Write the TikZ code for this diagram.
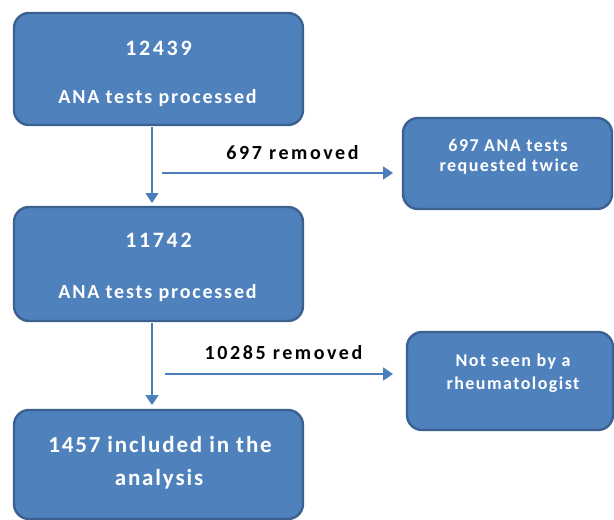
\documentclass[tikz,border=0pt]{standalone}
\usepackage{fontspec}
\setmainfont{Carlito}
\usetikzlibrary{arrows.meta}
\definecolor{boxfill}{HTML}{4F81BD}
\definecolor{boxline}{HTML}{3A6190}
\definecolor{arrowc}{HTML}{4A7EBB}
\begin{document}
\begin{tikzpicture}[x=1pt,y=-1pt,
  box/.style={draw=boxline, line width=2.4pt, fill=boxfill, rounded corners=15pt, inner sep=0pt},
  wtxt/.style={text=white, inner sep=0pt, anchor=base},
  bignum/.style={wtxt, font=\bfseries\fontsize{22}{24}\selectfont\addfontfeature{LetterSpace=12}},
  bigtxt/.style={wtxt, font=\bfseries\fontsize{20}{22}\selectfont\addfontfeature{LetterSpace=9}},
  smalltxt/.style={wtxt, font=\bfseries\fontsize{18}{20}\selectfont\addfontfeature{LetterSpace=8}},
  endtxt/.style={wtxt, font=\bfseries\fontsize{23}{25}\selectfont\addfontfeature{LetterSpace=8}},
  ltxt/.style={text=black, inner sep=0pt, anchor=base, font=\bfseries\fontsize{20}{22}\selectfont\addfontfeature{LetterSpace=13}},
  arr/.style={draw=arrowc, line width=1.8pt, -{Triangle[width=13pt,length=10pt]}}]
\useasboundingbox (0,0) rectangle (614,520);
% boxes
\node[box, minimum width=289pt, minimum height=112pt] (b1) at (158.5,69) {};
\node[box, minimum width=209pt, minimum height=91pt] (b2) at (507.5,163.5) {};
\node[box, minimum width=289pt, minimum height=114pt] (b3) at (158.5,264) {};
\node[box, minimum width=206pt, minimum height=98pt] (b4) at (510,381) {};
\node[box, minimum width=289pt, minimum height=109pt] (b5) at (158.5,464.5) {};
% texts
\node[bignum] (t1a) at (158.5,55) {12439};
\node[bigtxt] (t1b) at (157.5,103) {ANA tests processed};
\node[smalltxt] (t2a) at (508,151) {697 ANA tests};
\node[smalltxt] (t2b) at (509,171) {requested twice};
\node[bignum] (t3a) at (158.5,247) {11742};
\node[bigtxt] (t3b) at (157.5,298) {ANA tests processed};
\node[smalltxt] (t4a) at (513,366) {Not seen by a};
\node[smalltxt] (t4b) at (513,389) {rheumatologist};
\node[endtxt] (t5a) at (160,452) {1457 included in the};
\node[endtxt] (t5b) at (159,485) {analysis};
% labels
\node[ltxt] (l1) at (292.5,159) {697 removed};
\node[ltxt] (l2) at (283.5,359) {10285 removed};
% connectors
\coordinate (v1s) at (152,127);
\coordinate (v1e) at (152,203);
\coordinate (h1s) at (162,173);
\coordinate (h1e) at (393,173);
\coordinate (v2s) at (152,323);
\coordinate (v2e) at (152,405);
\coordinate (h2s) at (165,374);
\coordinate (h2e) at (393,374);
\draw[arr] (v1s) -- (v1e);
\draw[arr] (h1s) -- (h1e);
\draw[arr] (v2s) -- (v2e);
\draw[arr] (h2s) -- (h2e);
\end{tikzpicture}
\end{document}
